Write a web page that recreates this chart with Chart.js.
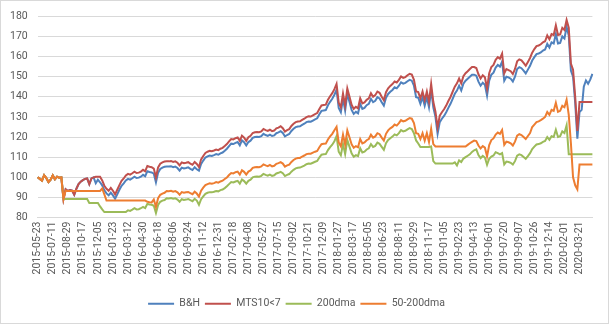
<!DOCTYPE html>
<html>
<head>
<meta charset="utf-8">
<title>B&amp;H vs timing strategies</title>
<script src="https://cdn.jsdelivr.net/npm/chart.js@4/dist/chart.umd.min.js"></script>
<style>
	html, body { margin: 0; padding: 0; background: #fff; }
	#wrap { width: 609px; height: 324px; }
</style>
</head>
<body>
<div id="wrap"><canvas id="chart" width="609" height="324"></canvas></div>
<script>
	'use strict'

	// WEEKLY CATEGORIES
	// =================

	var firstWeek = '2015-05-23'
	var weekCount = 259

	// dates that get a label on the x axis (every 7th week)
	var tickLabels = [
		'2015-05-23', '2015-07-11', '2015-08-29', '2015-10-17', '2015-12-05', '2016-01-23',
		'2016-03-12', '2016-04-30', '2016-06-18', '2016-08-06', '2016-09-24', '2016-11-12',
		'2016-12-31', '2017-02-18', '2017-04-08', '2017-05-27', '2017-07-15', '2017-09-02',
		'2017-10-21', '2017-12-09', '2018-01-27', '2018-03-17', '2018-05-05', '2018-06-23',
		'2018-08-11', '2018-09-29', '2018-11-17', '2019-01-05', '2019-02-23', '2019-04-13',
		'2019-06-01', '2019-07-20', '2019-09-07', '2019-10-26', '2019-12-14', '2020-02-01',
		'2020-03-21'
	]

	var yTicks = [80, 90, 100, 110, 120, 130, 140, 150, 160, 170, 180]

	// SERIES (index, start = 100)
	// ======

	var bh = [
		100, 99.2, 98.3, 101.0, 99.6, 97.6, 98.8, 100.9, 99.0, 100.3,
		99.8, 99.9, 89.2, 94.0, 93.2, 93.6, 93.4, 91.3, 94.3, 96.6,
		97.8, 98.6, 99.2, 99.4, 96.6, 99.4, 99.9, 97.0, 98.8, 97.5,
		96.0, 93.5, 92.0, 91.0, 92.4, 91.0, 89.3, 91.5, 93.8, 95.8,
		97.0, 98.4, 99.2, 98.8, 99.5, 100.3, 99.6, 99.8, 100.3, 101.2,
		100.5, 103.0, 102.6, 102.4, 101.8, 97.5, 102.3, 104.1, 104.8, 105.2,
		105.4, 105.3, 105.5, 105.0, 105.3, 104.6, 103.3, 104.8, 104.4, 104.6,
		104.9, 104.2, 103.6, 105.0, 104.0, 103.3, 106.6, 108.3, 109.8, 110.4,
		110.8, 110.6, 111.0, 111.5, 111.2, 111.9, 112.3, 113.2, 114.2, 115.5,
		116.7, 116.5, 117.1, 117.5, 115.8, 118.3, 117.4, 115.8, 117.5, 118.2,
		119.6, 120.0, 120.1, 120.0, 120.4, 121.6, 121.0, 120.6, 121.2, 120.5,
		120.8, 121.9, 122.3, 122.9, 122.0, 120.3, 121.0, 121.5, 123.0, 124.1,
		124.9, 125.2, 125.3, 126.0, 126.6, 127.4, 127.7, 127.6, 128.2, 128.8,
		129.3, 131.3, 133.0, 133.2, 133.4, 135.8, 137.5, 139.0, 141.0, 143.5,
		134.5, 132.3, 139.0, 133.2, 141.4, 137.5, 133.5, 131.5, 132.5, 131.8,
		136.5, 134.0, 134.5, 135.8, 136.5, 139.0, 137.3, 138.0, 139.8, 139.2,
		137.3, 135.6, 139.5, 141.4, 142.5, 143.4, 144.7, 144.2, 145.5, 147.2,
		146.5, 146.9, 147.7, 148.4, 148.0, 145.5, 139.8, 139.5, 136.5, 139.8,
		135.6, 139.8, 134.8, 143.5, 134.8, 130.0, 121.6, 127.4, 129.1, 130.5,
		132.3, 134.5, 136.5, 139.0, 141.5, 143.1, 145.5, 143.1, 146.5, 148.0,
		149.0, 150.0, 151.0, 151.0, 150.5, 147.5, 145.5, 147.0, 146.0, 140.6,
		148.0, 151.0, 152.0, 154.5, 155.8, 155.0, 157.5, 148.0, 150.0, 149.6,
		149.0, 147.6, 150.0, 153.8, 154.7, 154.2, 153.0, 151.6, 153.5, 155.4,
		158.0, 159.7, 161.2, 161.5, 162.0, 163.0, 163.5, 166.3, 164.5, 167.0,
		166.5, 171.2, 166.5, 166.8, 170.0, 169.0, 174.7, 170.5, 153.0, 150.0,
		137.0, 119.2, 132.4, 133.5, 145.0, 148.1, 146.5, 148.5, 151.4
	]

	var mts = [
		100, 99.2, 98.3, 101.0, 99.6, 97.6, 98.8, 100.9, 99.0, 100.3,
		99.8, 99.9, 89.2, 94.0, 93.2, 93.6, 93.4, 91.3, 94.3, 96.6,
		97.8, 98.6, 99.2, 99.4, 96.6, 99.4, 99.9, 100.2, 100.2, 100.2,
		98.4, 95.8, 94.3, 93.3, 94.7, 93.3, 91.5, 93.8, 96.1, 98.2,
		99.4, 100.9, 101.7, 101.3, 102.0, 102.8, 102.1, 102.3, 102.8, 103.7,
		103.0, 105.6, 105.2, 105.0, 104.3, 100.0, 104.9, 106.7, 107.4, 107.8,
		108.0, 107.9, 108.1, 107.6, 107.9, 107.2, 105.9, 107.4, 107.0, 107.2,
		107.5, 106.8, 106.2, 107.6, 106.6, 105.1, 108.9, 110.6, 112.1, 112.7,
		113.1, 112.9, 113.3, 113.8, 113.5, 114.2, 114.6, 115.5, 116.5, 117.8,
		119.0, 118.8, 119.4, 119.8, 118.1, 120.7, 119.7, 118.1, 119.9, 120.6,
		122.0, 122.4, 122.5, 122.4, 122.8, 124.0, 123.4, 123.0, 123.6, 122.9,
		123.2, 124.3, 124.7, 125.4, 124.4, 122.7, 123.4, 123.9, 125.5, 126.6,
		127.4, 127.7, 127.8, 128.5, 129.1, 129.9, 130.3, 130.2, 130.8, 131.4,
		131.9, 133.9, 135.7, 135.9, 136.1, 138.5, 140.3, 141.8, 143.8, 146.4,
		137.1, 134.8, 141.6, 135.7, 144.1, 140.1, 136.0, 134.0, 135.0, 134.3,
		139.2, 136.7, 137.2, 138.5, 139.2, 141.8, 140.0, 140.8, 142.6, 142.0,
		140.0, 138.3, 142.3, 144.2, 145.4, 146.3, 147.6, 147.1, 148.4, 150.1,
		149.4, 149.8, 150.7, 151.4, 151.0, 148.4, 142.6, 142.3, 139.2, 142.6,
		138.3, 142.6, 137.5, 146.4, 137.5, 132.6, 124.8, 130.6, 132.3, 133.8,
		135.6, 137.9, 139.9, 142.5, 145.0, 146.7, 149.1, 146.7, 150.2, 151.7,
		152.7, 153.8, 154.8, 154.8, 154.3, 151.2, 149.1, 150.7, 149.7, 144.1,
		151.7, 154.8, 155.8, 158.4, 159.7, 158.9, 161.4, 151.7, 153.8, 153.3,
		152.7, 151.3, 153.8, 157.6, 158.6, 158.1, 156.8, 155.4, 157.3, 159.3,
		161.9, 163.7, 165.2, 165.5, 166.1, 167.1, 167.6, 170.5, 168.6, 171.2,
		170.7, 175.5, 170.7, 171.0, 174.3, 173.2, 178.2, 174.3, 156.5, 153.5,
		140.0, 123.0, 137.4, 137.4, 137.4, 137.4, 137.4, 137.4, 137.4
	]

	var dma200 = [
		100, 99.2, 98.3, 101.0, 99.6, 97.6, 98.8, 100.9, 99.0, 100.3,
		99.8, 99.9, 89.2, 89.2, 89.2, 89.2, 89.2, 89.2, 89.2, 89.2,
		89.2, 89.2, 89.2, 89.2, 87.2, 87.2, 87.2, 87.2, 87.2, 85.5,
		84.0, 82.7, 82.7, 82.7, 82.7, 82.7, 82.7, 82.7, 82.7, 82.7,
		82.7, 82.7, 83.6, 83.3, 83.9, 84.6, 84.0, 84.1, 84.6, 85.3,
		84.7, 86.8, 86.5, 86.3, 85.8, 82.2, 86.2, 87.8, 88.4, 88.7,
		89.6, 89.5, 89.7, 89.3, 89.5, 88.9, 87.8, 89.1, 88.7, 88.9,
		89.2, 88.6, 88.1, 89.3, 88.4, 86.3, 89.1, 90.5, 91.8, 92.3,
		92.6, 92.5, 92.8, 93.2, 93.0, 93.6, 93.9, 94.6, 95.5, 96.6,
		97.6, 97.4, 97.9, 98.2, 96.8, 98.9, 98.1, 96.8, 98.2, 98.8,
		100.0, 100.3, 100.4, 100.3, 100.7, 101.7, 101.2, 100.8, 101.3, 100.7,
		101.0, 101.9, 102.2, 102.7, 102.0, 100.6, 101.2, 101.6, 102.8, 103.7,
		104.4, 104.7, 104.8, 105.3, 105.8, 106.5, 106.8, 106.7, 107.2, 107.7,
		108.1, 109.8, 111.2, 111.4, 111.5, 113.5, 115.0, 116.2, 117.9, 120.4,
		112.7, 110.9, 116.5, 111.6, 118.5, 115.2, 111.9, 110.2, 111.0, 110.5,
		114.4, 112.3, 112.7, 113.8, 114.4, 116.5, 115.1, 115.6, 117.2, 116.6,
		115.1, 113.6, 116.9, 118.5, 119.4, 120.2, 121.3, 120.8, 121.9, 123.4,
		122.8, 123.1, 123.8, 124.4, 124.0, 121.9, 118.3, 116.8, 115.0, 115.0,
		115.0, 115.0, 115.0, 115.3, 108.0, 106.8, 106.8, 106.8, 106.8, 106.8,
		106.8, 106.8, 106.8, 106.8, 107.4, 105.9, 108.4, 107.6, 109.3, 110.0,
		110.7, 111.4, 112.6, 113.4, 113.9, 111.0, 109.5, 110.6, 109.8, 106.2,
		109.2, 110.3, 110.8, 112.4, 112.0, 111.4, 112.0, 106.4, 107.8, 107.6,
		107.2, 106.3, 108.0, 110.7, 111.4, 111.0, 110.1, 109.2, 110.5, 112.0,
		114.0, 115.2, 116.3, 116.5, 116.9, 117.6, 118.0, 120.0, 118.6, 120.4,
		120.0, 123.6, 120.0, 120.4, 122.8, 122.0, 125.8, 111.4, 111.4, 111.4,
		111.4, 111.4, 111.4, 111.4, 111.4, 111.4, 111.4, 111.4, 111.4
	]

	var dma50200 = [
		100, 99.2, 98.3, 101.0, 99.6, 97.6, 98.8, 100.9, 99.0, 100.3,
		99.8, 99.9, 89.2, 93.4, 93.2, 93.2, 93.2, 93.2, 93.2, 93.2,
		93.2, 93.2, 93.2, 93.2, 93.2, 93.2, 93.2, 93.2, 93.2, 93.2,
		94.4, 91.5, 88.4, 88.4, 88.4, 88.4, 88.4, 88.4, 88.4, 88.4,
		88.4, 88.4, 88.4, 88.4, 88.4, 88.4, 88.4, 88.4, 88.4, 88.4,
		88.4, 87.8, 87.6, 87.5, 89.0, 85.3, 89.6, 91.3, 91.9, 92.3,
		93.2, 93.1, 93.3, 92.8, 93.1, 92.5, 91.3, 92.6, 92.3, 92.5,
		92.7, 92.1, 91.6, 92.8, 91.9, 90.4, 93.3, 94.8, 96.1, 96.6,
		97.0, 96.8, 97.1, 97.6, 97.3, 97.9, 98.3, 99.1, 99.9, 101.1,
		102.1, 101.9, 102.5, 102.8, 101.3, 103.5, 102.7, 101.3, 102.8, 103.4,
		104.7, 105.0, 105.1, 105.0, 105.4, 106.4, 105.9, 105.5, 106.1, 105.4,
		105.7, 106.7, 107.0, 107.5, 106.8, 105.3, 105.9, 106.3, 107.6, 108.6,
		109.3, 109.6, 109.6, 110.3, 110.8, 111.5, 111.7, 111.7, 112.2, 112.7,
		113.1, 114.9, 116.4, 116.6, 116.7, 118.8, 120.3, 121.6, 123.4, 125.1,
		117.3, 115.4, 121.2, 116.2, 123.3, 119.9, 116.4, 114.7, 115.5, 114.9,
		119.0, 116.8, 117.3, 118.4, 119.0, 121.2, 119.7, 120.3, 121.9, 121.4,
		119.7, 118.2, 121.6, 123.3, 124.3, 125.0, 126.2, 125.7, 126.9, 128.4,
		127.8, 128.1, 128.8, 129.4, 129.1, 126.9, 121.9, 121.6, 119.0, 121.9,
		118.2, 121.9, 117.5, 124.1, 116.5, 115.3, 115.3, 115.3, 115.3, 115.3,
		115.3, 115.3, 115.3, 115.3, 115.3, 115.3, 115.3, 115.3, 115.3, 115.3,
		116.1, 116.9, 117.6, 118.2, 118.0, 115.8, 114.3, 115.5, 114.7, 110.4,
		116.0, 118.5, 119.3, 121.2, 122.2, 121.6, 123.5, 116.1, 117.7, 117.4,
		116.9, 115.8, 117.7, 120.7, 121.4, 121.0, 120.0, 119.0, 120.5, 122.0,
		125.0, 126.2, 127.4, 127.8, 128.4, 129.1, 130.0, 132.4, 131.0, 133.5,
		133.0, 137.0, 132.5, 133.0, 135.5, 134.8, 138.5, 131.0, 117.0, 100.0,
		96.0, 94.0, 106.3, 106.3, 106.3, 106.3, 106.3, 106.3, 106.3
	]

	// HELPERS
	// =======

	function weekLabels(start, n) {
		var out = []
		var d = new Date(start + 'T00:00:00Z')
		for (var i = 0; i < n; i++) {
			out.push(d.toISOString().slice(0, 10))
			d.setUTCDate(d.getUTCDate() + 7)
		}
		return out
	}

	var textColor = '#595959'
	var gridColor = '#d9d9d9'
	var font = { family: 'Roboto', size: 10.5 }

	// thin grey frame round the whole chart
	var frame = {
		id: 'frame',
		beforeDraw: function (chart) {
			var ctx = chart.ctx
			ctx.save()
			ctx.fillStyle = '#fff'
			ctx.fillRect(0, 0, chart.width, chart.height)
			ctx.strokeStyle = gridColor
			ctx.lineWidth = 1
			ctx.strokeRect(0.5, 0.5, chart.width - 1, chart.height - 1)
			ctx.restore()
		}
	}

	function series(label, data, color, order) {
		return {
			label: label,
			data: data,
			borderColor: color,
			backgroundColor: color,
			borderWidth: 2,
			pointRadius: 0,
			tension: 0,
			fill: false,
			order: order
		}
	}

	// CHART
	// =====

	new Chart(document.getElementById('chart'), {
		type: 'line',
		data: {
			labels: weekLabels(firstWeek, weekCount),
			datasets: [
				series('B&H', bh, '#4F81BD', 4),
				series('MTS10<7', mts, '#C0504D', 3),
				series('200dma', dma200, '#9BBB59', 2),
				series('50-200dma', dma50200, '#ED7D31', 1)
			]
		},
		options: {
			responsive: false,
			animation: false,
			devicePixelRatio: 1,
			layout: { padding: { left: 0, right: 16, top: 9, bottom: 5 } },
			plugins: {
				legend: {
					position: 'bottom',
					labels: {
						usePointStyle: true,
						pointStyle: 'line',
						pointStyleWidth: 26,
						boxWidth: 26,
						padding: 5,
						color: textColor,
						font: font,
						sort: function (a, b) { return a.datasetIndex - b.datasetIndex }
					}
				},
				tooltip: { enabled: false }
			},
			scales: {
				x: {
					grid: { display: false, drawTicks: false },
					border: { display: true, color: gridColor },
					ticks: {
						autoSkip: false,
						minRotation: 90,
						maxRotation: 90,
						padding: 4,
						color: textColor,
						font: font,
						callback: function (value) {
							var lab = this.getLabelForValue(value)
							return tickLabels.indexOf(lab) >= 0 ? lab : ''
						}
					},
					afterFit: function (scale) { scale.height = 76 }
				},
				y: {
					min: yTicks[0],
					max: yTicks[yTicks.length - 1],
					grid: { color: gridColor, drawTicks: false },
					border: { display: false },
					ticks: {
						stepSize: yTicks[1] - yTicks[0],
						padding: 10,
						color: textColor,
						font: font
					}
				}
			}
		},
		plugins: [frame]
	})
</script>
</body>
</html>
